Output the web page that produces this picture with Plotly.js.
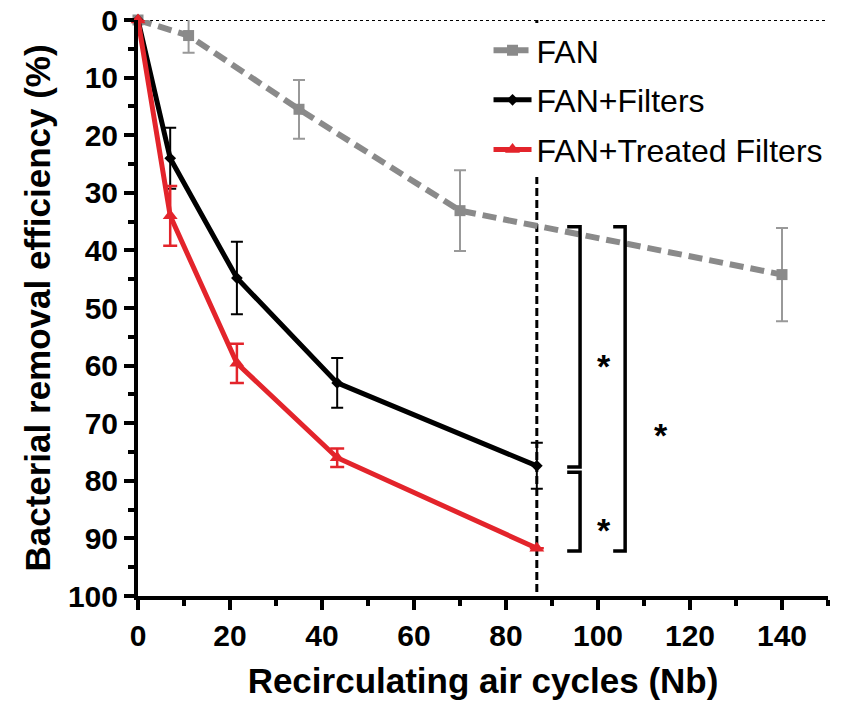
<!DOCTYPE html>
<html>
<head>
<meta charset="utf-8">
<script src="https://cdn.plot.ly/plotly-3.0.1.min.js"></script>
<style>
  html, body { margin: 0; padding: 0; background: #fff; }
  #chart { width: 843px; height: 701px; }
</style>
</head>
<body>
<div id="chart"></div>
<script>
// ---- data ----
const seriesNames = ["FAN", "FAN+Filters", "FAN+Treated Filters"];

const fanX   = [0, 11, 35, 70, 140];
const fanY   = [0, 2.7, 15.5, 33.1, 44.2];
const fanErr = [0, 3.0, 5.1, 7.0, 8.1];

const filtX   = [0, 7, 21.5, 43.3, 86.7];
const filtY   = [0, 24.0, 44.8, 63.0, 77.4];
const filtErr = [0, 5.3, 6.3, 4.3, 4.0];

const treatX   = [0, 7, 21.5, 43.3, 86.7];
const treatY   = [0, 34.0, 59.6, 76.0, 91.7];
const treatErr = [0, 5.2, 3.4, 1.6, 0];

const refCycle = 86.7;           // vertical dashed reference line
const xTickVals = [0, 20, 40, 60, 80, 100, 120, 140];
const yTickVals = [0, 10, 20, 30, 40, 50, 60, 70, 80, 90, 100];

// significance brackets: [x of vertical, x of cap end, top y, bottom y]
const bracketVX   = [96.1, 96.1, 105.9];
const bracketCapX = [93.3, 93.3, 103.3];
const bracketTop  = [35.9, 78.5, 35.9];
const bracketBot  = [77.6, 92.2, 92.2];
const starX = [101.3, 101.3, 113.7];
const starY = [58.5, 87.0, 70.5];

// ---- styling ----
const FONT = '"Liberation Sans", Arial, Helvetica, sans-serif';
const GRAY = '#8a8a8a';
const RED = '#e3242b';

const traces = [
  {
    x: fanX, y: fanY, name: seriesNames[0], legendgroup: 'a',
    type: 'scatter', mode: 'lines+markers', cliponaxis: false,
    line: { color: GRAY, width: 6, dash: '14px,7px' },
    marker: { symbol: 'square', size: 11, color: GRAY },
    error_y: { type: 'data', array: fanErr, visible: true, color: '#999999', thickness: 2, width: 6 }
  },
  {
    x: filtX, y: filtY, name: seriesNames[1], legendgroup: 'b',
    type: 'scatter', mode: 'lines+markers', cliponaxis: false,
    line: { color: '#000000', width: 5 },
    marker: { symbol: 'diamond', size: 9, color: '#000000' },
    error_y: { type: 'data', array: filtErr, visible: true, color: '#000000', thickness: 2, width: 6 }
  },
  {
    x: treatX, y: treatY, name: seriesNames[2], legendgroup: 'c',
    type: 'scatter', mode: 'lines+markers', cliponaxis: false,
    line: { color: RED, width: 5 },
    marker: { symbol: 'triangle-up', size: 13, color: RED },
    error_y: { type: 'data', array: treatErr, visible: true, color: RED, thickness: 2.5, width: 7 }
  }
];

const shapes = [
  // dotted line at 0 %
  { type: 'line', xref: 'x', yref: 'y', x0: 0, x1: 150, y0: 0, y1: 0,
    line: { color: '#000', width: 1.8, dash: 'dot' }, layer: 'below' },
  // vertical dashed reference line
  { type: 'line', xref: 'x', yref: 'y', x0: refCycle, x1: refCycle, y0: 0, y1: 100,
    line: { color: '#000', width: 3, dash: '8px,4px' }, layer: 'below' }
];
for (let i = 0; i < bracketVX.length; i++) {
  shapes.push({
    type: 'path', xref: 'x', yref: 'y',
    path: `M ${bracketCapX[i]},${bracketTop[i]} L ${bracketVX[i]},${bracketTop[i]} L ${bracketVX[i]},${bracketBot[i]} L ${bracketCapX[i]},${bracketBot[i]}`,
    line: { color: '#000', width: 3.5 }, fillcolor: 'rgba(0,0,0,0)'
  });
}

const annotations = starX.map((sx, i) => ({
  x: sx, y: starY[i], xref: 'x', yref: 'y', text: '<b>*</b>', showarrow: false,
  font: { family: FONT, size: 34, color: '#000' }, yshift: -9
}));

const layout = {
  width: 843, height: 701,
  margin: { l: 138, r: 15, t: 20, b: 105 },
  paper_bgcolor: '#fff', plot_bgcolor: '#fff',
  showlegend: true,
  legend: {
    x: 0.508, y: 0.995, xanchor: 'left', yanchor: 'top',
    bgcolor: '#ffffff', borderwidth: 0,
    font: { family: FONT, size: 32, color: '#000' },
    tracegroupgap: 5, itemwidth: 38
  },
  xaxis: {
    range: [0, 150], showgrid: false, zeroline: false,
    showline: true, linecolor: '#000', linewidth: 4,
    ticks: 'outside', ticklen: 10, tickwidth: 4, tickcolor: '#000',
    tickvals: xTickVals,
    minor: { dtick: 10, tick0: 0, ticklen: 6, tickwidth: 4, tickcolor: '#000', ticks: 'outside' },
    tickfont: { family: FONT, size: 30, color: '#000', weight: 'bold' },
    title: { text: '<b>Recirculating air cycles (Nb)</b>', font: { family: FONT, size: 35, color: '#000' }, standoff: 18 }
  },
  yaxis: {
    range: [100, 0], showgrid: false, zeroline: false,
    showline: true, linecolor: '#000', linewidth: 4,
    ticks: 'outside', ticklen: 10, tickwidth: 4, tickcolor: '#000',
    tickvals: yTickVals,
    minor: { dtick: 5, tick0: 0, ticklen: 6, tickwidth: 4, tickcolor: '#000', ticks: 'outside' },
    tickfont: { family: FONT, size: 30, color: '#000', weight: 'bold' },
    title: { text: '<b>Bacterial removal efficiency (%)</b>', font: { family: FONT, size: 35, color: '#000' }, standoff: 8 }
  },
  shapes: shapes,
  annotations: annotations
};

Plotly.newPlot('chart', traces, layout, { staticPlot: true, displayModeBar: false });
</script>
</body>
</html>
